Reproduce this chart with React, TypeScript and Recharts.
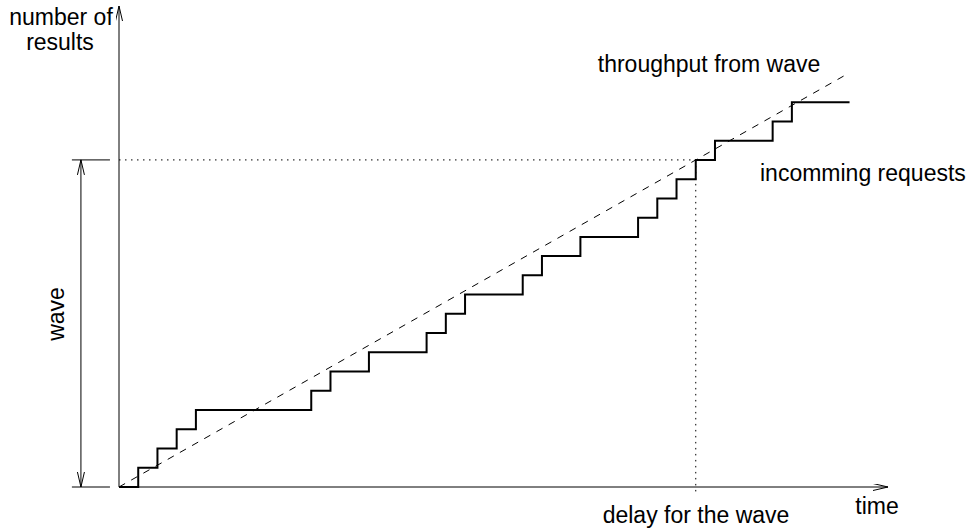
import { ComposedChart, Line, XAxis, YAxis, ReferenceLine } from 'recharts';

// steps of the incoming requests (time unit -> number of results)
const stepTimes = [0, 1, 2, 3, 4, 10, 11, 13, 16, 17, 18, 21, 22, 24, 27, 28, 29, 30, 31, 34, 35, 38];
const stepCounts = [0, 1, 2, 3, 4, 5, 6, 7, 8, 9, 10, 11, 12, 13, 14, 15, 16, 17, 18, 19, 20, 20];

// throughput from wave: the wave (17 results) done after the delay (30 time units)
const waveSize = 17;
const waveDelay = 30;
const throughputEnd = 38;

const requests = stepTimes.map((t, i) => ({ t, n: stepCounts[i] }));
const throughput = [
    { t: 0, n: 0 },
    { t: throughputEnd, n: (throughputEnd * waveSize) / waveDelay },
];

const font = '"Liberation Sans", Arial, Helvetica, sans-serif';
const textStyle = { fontFamily: font, fontSize: 23, fill: '#000' };

function ArrowDefs() {
    return (
        <svg width={0} height={0} style={{ position: 'absolute' }}>
            <defs>
                <marker id="arrowEnd" markerUnits="userSpaceOnUse" markerWidth={16} markerHeight={8}
                    refX={15} refY={3.5} orient="auto">
                    <path d="M0,0 L15,3.5 L0,7" fill="none" stroke="#000" strokeWidth={1} />
                </marker>
                <marker id="arrowStart" markerUnits="userSpaceOnUse" markerWidth={16} markerHeight={8}
                    refX={0} refY={3.5} orient="auto">
                    <path d="M15,0 L0,3.5 L15,7" fill="none" stroke="#000" strokeWidth={1} />
                </marker>
            </defs>
        </svg>
    );
}

export default function App() {
    return (
        <div style={{ position: 'absolute', left: 0, top: 0 }}>
            <ArrowDefs />
            <ComposedChart width={969} height={531} margin={{ top: 6, right: 81, bottom: 44, left: 119 }}>
                <XAxis type="number" dataKey="t" domain={[0, 40]} hide />
                <YAxis type="number" dataKey="n" domain={[0, 25]} hide />

                {/* axes */}
                <ReferenceLine segment={[{ x: 0, y: 0 }, { x: 40, y: 0 }]} stroke="#000" strokeWidth={1}
                    markerEnd="url(#arrowEnd)" ifOverflow="visible" />
                <ReferenceLine segment={[{ x: 0, y: 0 }, { x: 0, y: 25 }]} stroke="#000" strokeWidth={1}
                    markerEnd="url(#arrowEnd)" ifOverflow="visible" />

                {/* wave / delay guides */}
                <ReferenceLine segment={[{ x: 0, y: waveSize }, { x: waveDelay, y: waveSize }]} stroke="#000"
                    strokeWidth={1} strokeDasharray="1.5 4.5" ifOverflow="visible" />
                <ReferenceLine segment={[{ x: waveDelay, y: waveSize }, { x: waveDelay, y: -0.4 }]} stroke="#000"
                    strokeWidth={1} strokeDasharray="1.5 4.5" ifOverflow="visible" />

                {/* wave dimension line */}
                <ReferenceLine segment={[{ x: -2.45, y: waveSize }, { x: -0.47, y: waveSize }]} stroke="#000"
                    strokeWidth={1} ifOverflow="visible" />
                <ReferenceLine segment={[{ x: -2.45, y: 0 }, { x: -0.47, y: 0 }]} stroke="#000"
                    strokeWidth={1} ifOverflow="visible" />
                <ReferenceLine segment={[{ x: -1.98, y: 0 }, { x: -1.98, y: waveSize }]} stroke="#000"
                    strokeWidth={1} markerStart="url(#arrowStart)" markerEnd="url(#arrowEnd)" ifOverflow="visible" />

                <Line data={throughput} dataKey="n" type="linear" stroke="#000" strokeWidth={1}
                    strokeDasharray="7 7" dot={false} isAnimationActive={false} />
                <Line data={requests} dataKey="n" type="stepAfter" stroke="#000" strokeWidth={2}
                    dot={false} isAnimationActive={false} />

                <text x={61} y={25} textAnchor="middle" style={textStyle}>number of</text>
                <text x={60} y={50} textAnchor="middle" style={textStyle}>results</text>
                <text x={709} y={72} textAnchor="middle" style={textStyle}>throughput from wave</text>
                <text x={760} y={181} style={textStyle}>incomming requests</text>
                <text x={877} y={514} textAnchor="middle" style={textStyle}>time</text>
                <text x={696} y={523} textAnchor="middle" style={textStyle}>delay for the wave</text>
                <text x={64} y={314} textAnchor="middle" transform="rotate(-90 64 314)" style={textStyle}>wave</text>
            </ComposedChart>
        </div>
    );
}
